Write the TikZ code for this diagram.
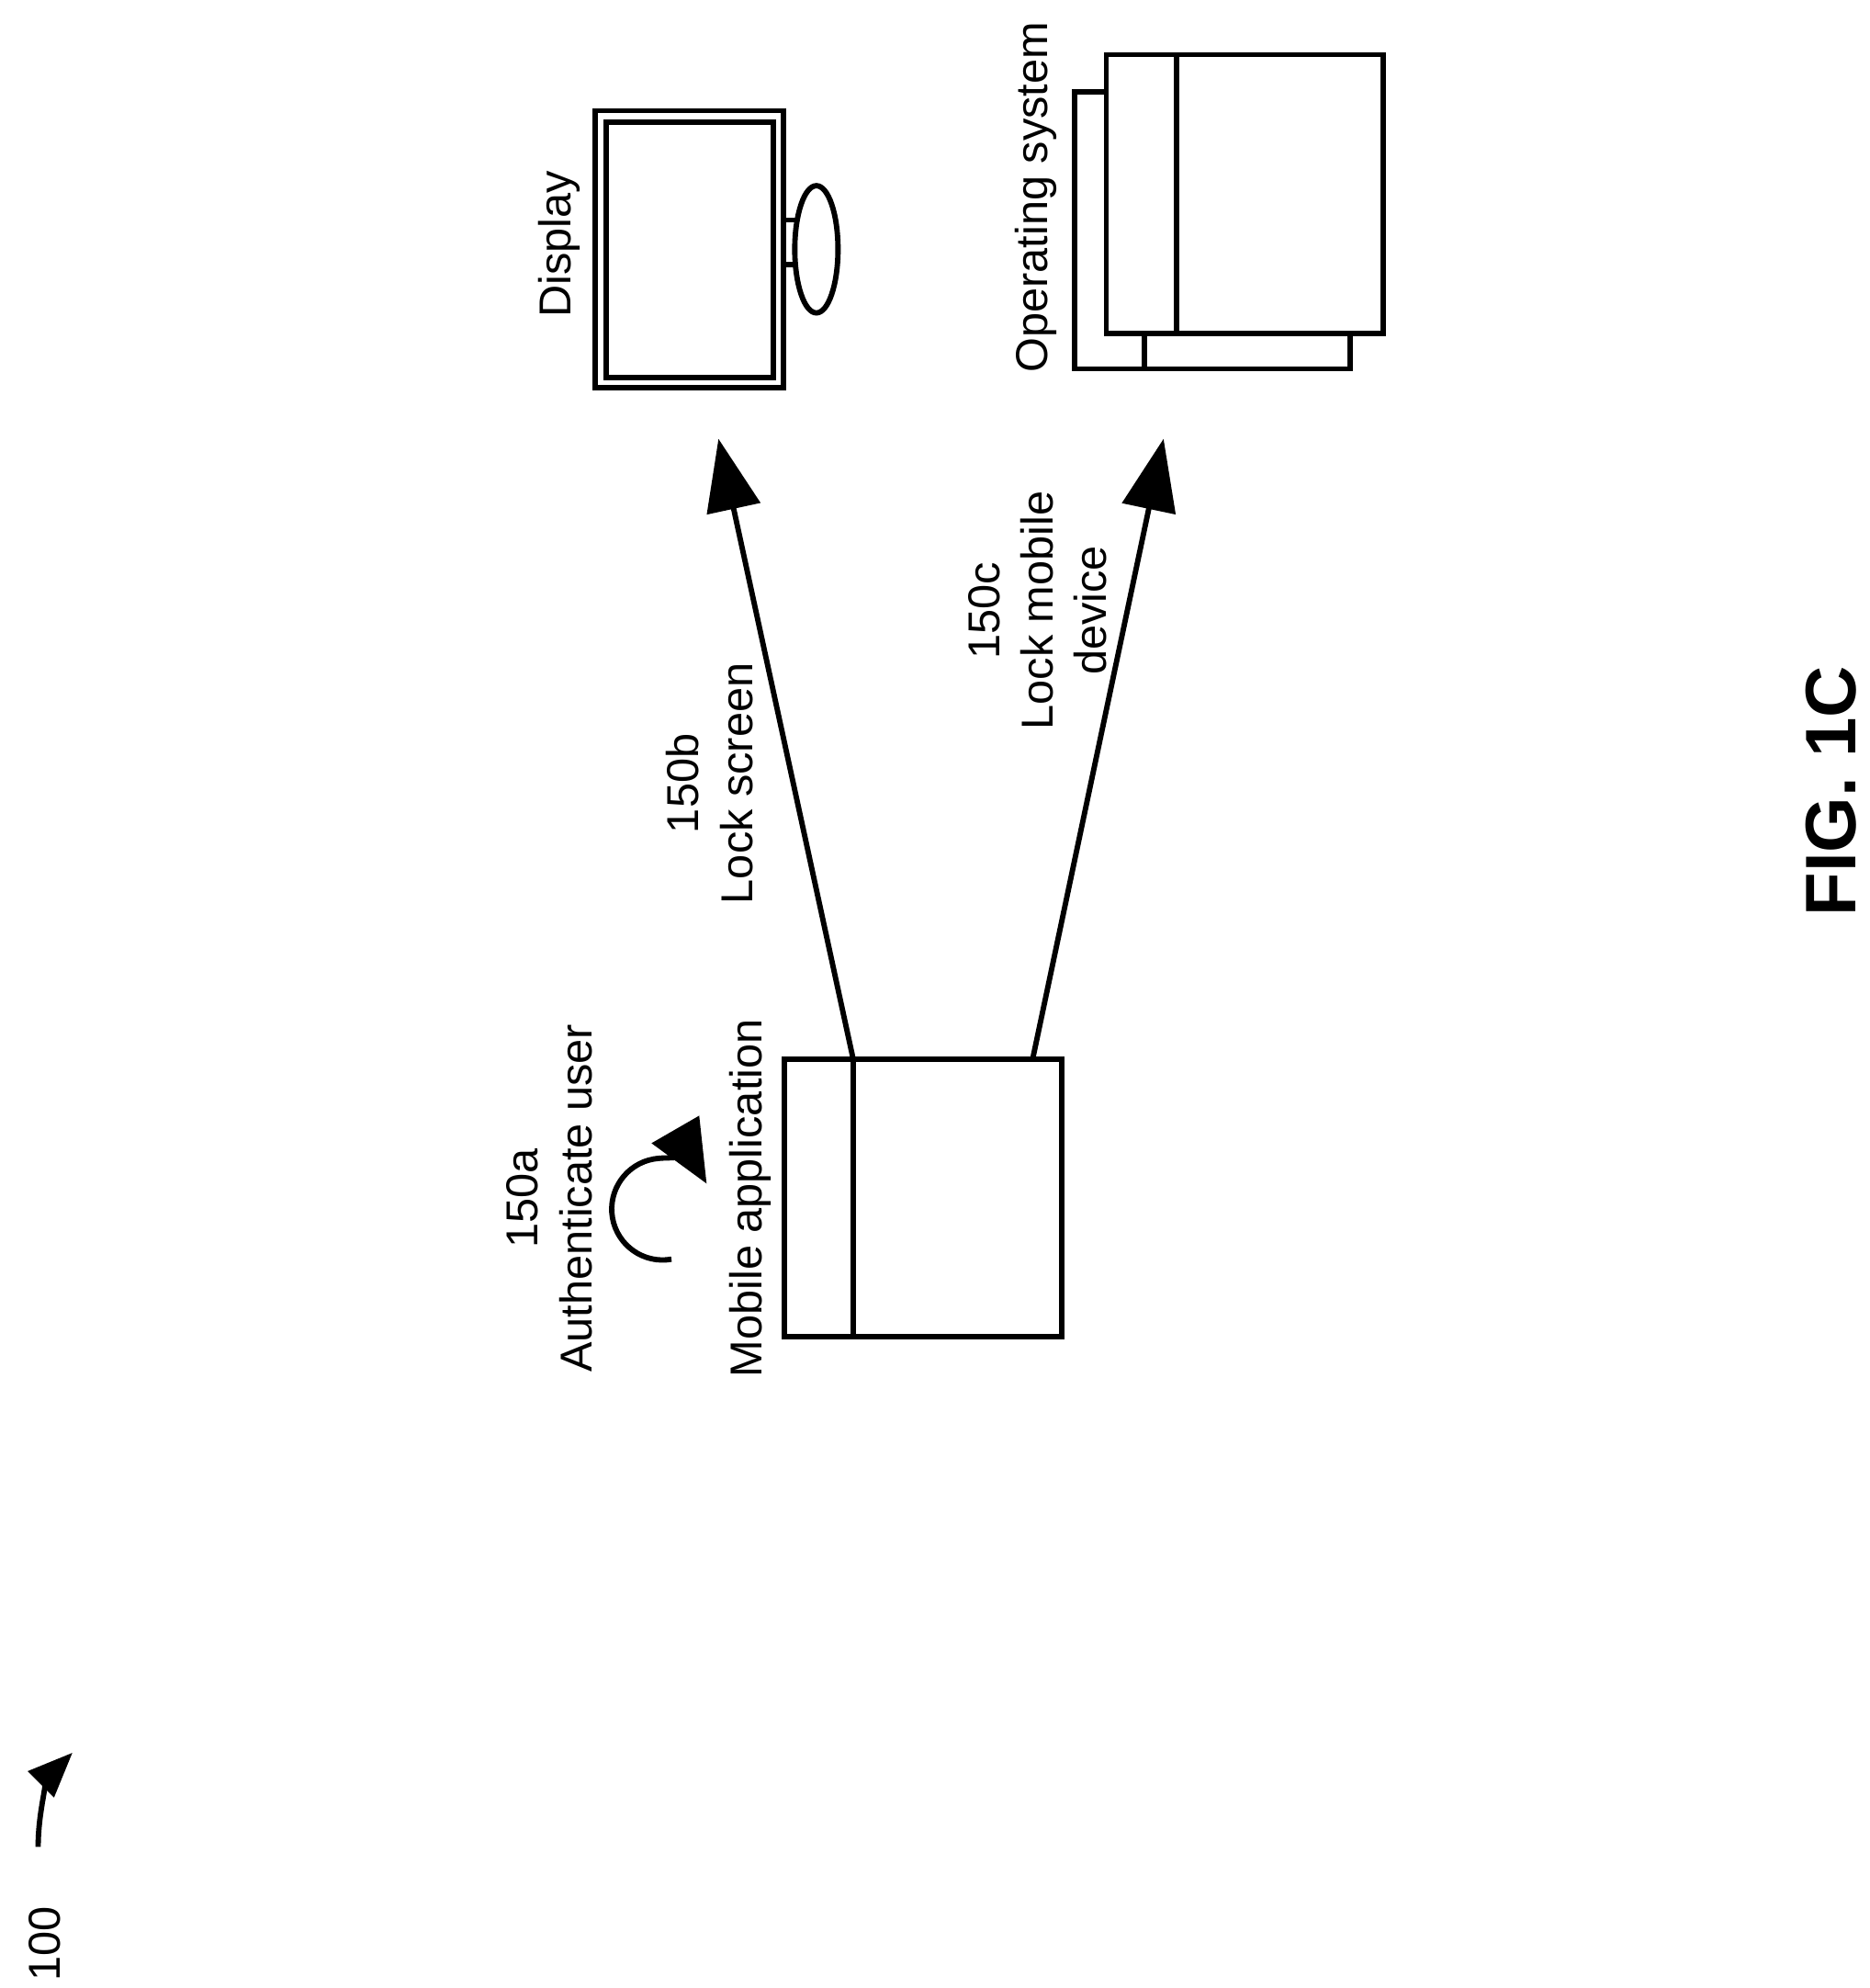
\documentclass[tikz,border=0pt]{standalone}
\usepackage{fontspec}
\setmainfont{Liberation Sans}
\usetikzlibrary{arrows.meta}
\begin{document}
\begin{tikzpicture}[x=0.01cm,y=-0.01cm,
  box/.style={draw,line width=1.2pt,fill=white},
  lbl/.style={rotate=90,font=\fontsize{10pt}{12pt}\selectfont,align=center,inner sep=0},
  arr/.style={line width=1.2pt,-{Triangle[length=16pt,width=12pt]}}]
\useasboundingbox (0,0) rectangle (1470,1563);
% mobile app
\draw[box] (617,833) rectangle (835,1051);
\draw[line width=1.2pt] (671,833) -- (671,1051);
\coordinate (mA) at (671,833);
\coordinate (mB) at (812,833);
\node[lbl] at (590,942) {Mobile application};
\node[lbl] at (432,942) {150a\\Authenticate user};
\draw[line width=1.2pt,-{Triangle[length=14pt,width=12pt]}] (528,990) arc[start angle=80,end angle=330,radius=40] ;
% display
\draw[box] (468,87) rectangle (616,305);
\draw[line width=1.2pt] (477,96) rectangle (608,297);
\draw[line width=1.2pt] (616,173) rectangle (627,208);
\draw[line width=1.2pt,fill=white] (642,196) ellipse[x radius=17,y radius=50];
\node[lbl] at (440,192) {Display};
\coordinate (dA) at (565,345);
% OS
\draw[box] (845,72) rectangle (1062,290);
\draw[line width=1.2pt] (900,262) -- (900,290);
\draw[box] (870,43) rectangle (1088,262);
\draw[line width=1.2pt] (925,43) -- (925,262);
\node[lbl] at (815,155) {Operating system};
\coordinate (oA) at (915,345);
% arrows
\draw[arr] (mA) -- (dA);
\draw[arr] (mB) -- (oA);
\node[lbl] at (558,616) {150b\\Lock screen};
\node[lbl] at (816,480) {150c\\Lock mobile\\device};
% 100
\node[lbl] at (35,1528) {100};
\draw[line width=1.2pt,-{Triangle[length=10pt,width=8pt]}] (30,1452) .. controls (30,1420) and (40,1395) .. (57,1378);
\node[rotate=90,font=\bfseries\fontsize{16pt}{18pt}\selectfont] at (1440,622) {FIG. 1C};
\end{tikzpicture}
\end{document}
